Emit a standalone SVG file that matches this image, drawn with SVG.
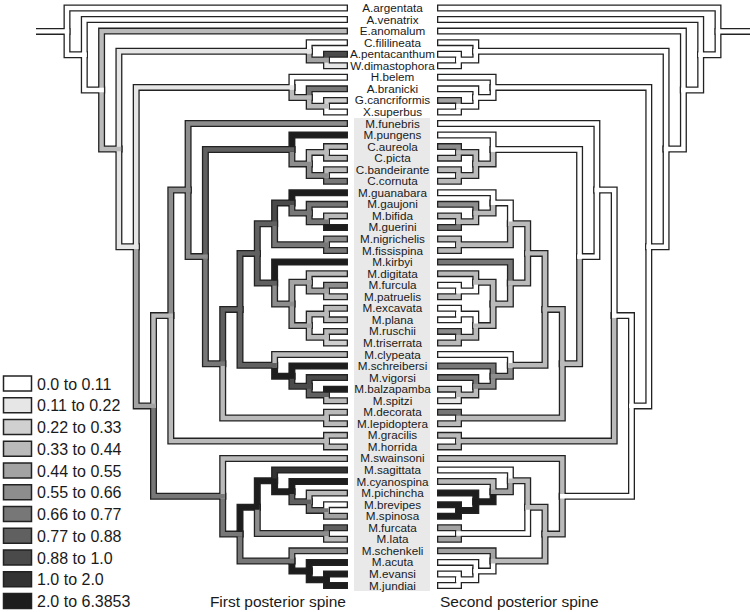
<svg xmlns="http://www.w3.org/2000/svg" xmlns:xlink="http://www.w3.org/1999/xlink" width="750" height="612" viewBox="0 0 750 612">
<style>
.o{fill:none;stroke:#222;stroke-width:7;stroke-linecap:square;stroke-linejoin:miter}
.stub{fill:none;stroke:#222;stroke-width:7}
.stubf{fill:none;stroke:#fff;stroke-width:4.4}
.f{fill:none;stroke-width:4.4;stroke-linecap:square;stroke-linejoin:miter}
.s0{stroke:#ffffff}.s1{stroke:#e6e6e6}.s2{stroke:#d0d0d0}.s3{stroke:#bababa}.s4{stroke:#a3a3a3}.s5{stroke:#8d8d8d}
.s6{stroke:#777777}.s7{stroke:#606060}.s8{stroke:#4a4a4a}.s9{stroke:#333333}.s10{stroke:#1d1d1d}
.k0{fill:#ffffff}.k1{fill:#e6e6e6}.k2{fill:#d0d0d0}.k3{fill:#bababa}.k4{fill:#a3a3a3}.k5{fill:#8d8d8d}
.k6{fill:#777777}.k7{fill:#606060}.k8{fill:#4a4a4a}.k9{fill:#333333}.k10{fill:#1d1d1d}
.lab{font-family:"Liberation Sans",Arial,sans-serif;font-size:11.7px;fill:#1a1a1a;text-anchor:middle}
.lg rect{stroke:#222;stroke-width:1.5}
.lg text{font-family:"Liberation Sans",Arial,sans-serif;font-size:16px;fill:#1a1a1a}
.ttl{font-family:"Liberation Sans",Arial,sans-serif;font-size:15.5px;fill:#1a1a1a}
</style>
<defs>
<g id="tree">
<path id="argentata" d="M67 31.4V8H344.5"/>
<path id="n2" d="M67 31.4V54.8H84.3"/>
<path id="venatrix" d="M84.3 54.8V19.55H344.5"/>
<path id="n3" d="M84.3 54.8V90H101.6"/>
<path id="anomalum" d="M101.6 90V31.1H344.5"/>
<path id="n4" d="M101.6 90V149H118.9"/>
<path id="ncf" d="M118.9 149V51.3H309.2"/>
<path id="fililineata" d="M309.2 51.3V42.65H344.5"/>
<path id="npw" d="M309.2 51.3V60H326.5"/>
<path id="pentacanthum" d="M326.5 60V54.2H344.5"/>
<path id="dimastophora" d="M326.5 60V65.75H344.5"/>
<path id="n6" d="M118.9 149V246.7H136.2"/>
<path id="nhb" d="M136.2 246.7V87.4H291.9"/>
<path id="belem" d="M291.9 87.4V77.3H344.5"/>
<path id="nab" d="M291.9 87.4V97.5H309.2"/>
<path id="branicki" d="M309.2 97.5V88.85H344.5"/>
<path id="ngx" d="M309.2 97.5V106.2H326.5"/>
<path id="cancriformis" d="M326.5 106.2V100.4H344.5"/>
<path id="superbus" d="M326.5 106.2V111.95H344.5"/>
<path id="n8" d="M136.2 246.7V405.9H153.5"/>
<path id="nf2" d="M153.5 405.9V315.6H170.8"/>
<path id="nfun" d="M170.8 315.6V190H188.1"/>
<path id="funebris" d="M188.1 190V123.5H344.5"/>
<path id="na" d="M188.1 190V256.6H205.4"/>
<path id="npc" d="M205.4 256.6V149.5H291.9"/>
<path id="pungens" d="M291.9 149.5V135.05H344.5"/>
<path id="nC" d="M291.9 149.5V163.9H309.2"/>
<path id="nap" d="M309.2 163.9V152.4H326.5"/>
<path id="aureola" d="M326.5 152.4V146.6H344.5"/>
<path id="picta" d="M326.5 152.4V158.15H344.5"/>
<path id="nbc" d="M309.2 163.9V175.5H326.5"/>
<path id="bandeirante" d="M326.5 175.5V169.7H344.5"/>
<path id="cornuta" d="M326.5 175.5V181.25H344.5"/>
<path id="nb" d="M205.4 256.6V363.7H222.7"/>
<path id="nc" d="M222.7 363.7V309.4H240"/>
<path id="nd" d="M240 309.4V253.4H257.3"/>
<path id="ne" d="M257.3 253.4V223.8H274.6"/>
<path id="nguan" d="M274.6 223.8V202.9H291.9"/>
<path id="guanabara" d="M291.9 202.9V192.8H344.5"/>
<path id="ngj" d="M291.9 202.9V213H309.2"/>
<path id="gaujoni" d="M309.2 213V204.35H344.5"/>
<path id="nbg" d="M309.2 213V221.7H326.5"/>
<path id="bifida" d="M326.5 221.7V215.9H344.5"/>
<path id="guerini" d="M326.5 221.7V227.45H344.5"/>
<path id="nnig" d="M274.6 223.8V244.8H326.5"/>
<path id="nigrichelis" d="M326.5 244.8V239H344.5"/>
<path id="fissispina" d="M326.5 244.8V250.55H344.5"/>
<path id="nkir" d="M257.3 253.4V283H274.6"/>
<path id="kirbyi" d="M274.6 283V262.1H344.5"/>
<path id="nde" d="M274.6 283V304H291.9"/>
<path id="ndig" d="M291.9 304V282.3H309.2"/>
<path id="digitata" d="M309.2 282.3V273.65H344.5"/>
<path id="nfp" d="M309.2 282.3V291H326.5"/>
<path id="furcula" d="M326.5 291V285.2H344.5"/>
<path id="patruelis" d="M326.5 291V296.75H344.5"/>
<path id="nex" d="M291.9 304V325.6H309.2"/>
<path id="nep" d="M309.2 325.6V314.1H326.5"/>
<path id="excavata" d="M326.5 314.1V308.3H344.5"/>
<path id="plana" d="M326.5 314.1V319.85H344.5"/>
<path id="nrt" d="M309.2 325.6V337.2H326.5"/>
<path id="ruschii" d="M326.5 337.2V331.4H344.5"/>
<path id="triserrata" d="M326.5 337.2V342.95H344.5"/>
<path id="nclyp" d="M240 309.4V365.3H274.6"/>
<path id="clypeata" d="M274.6 365.3V354.5H344.5"/>
<path id="nschr" d="M274.6 365.3V376.2H291.9"/>
<path id="schreibersi" d="M291.9 376.2V366.05H344.5"/>
<path id="nvig" d="M291.9 376.2V386.3H309.2"/>
<path id="vigorsi" d="M309.2 386.3V377.6H344.5"/>
<path id="nbsp" d="M309.2 386.3V394.9H326.5"/>
<path id="balzapamba" d="M326.5 394.9V389.15H344.5"/>
<path id="spitzi" d="M326.5 394.9V400.7H344.5"/>
<path id="ndl" d="M222.7 363.7V418H326.5"/>
<path id="decorata" d="M326.5 418V412.25H344.5"/>
<path id="lepidoptera" d="M326.5 418V423.8H344.5"/>
<path id="nh" d="M170.8 315.6V441.1H326.5"/>
<path id="gracilis" d="M326.5 441.1V435.35H344.5"/>
<path id="horrida" d="M326.5 441.1V446.9H344.5"/>
<path id="ng" d="M153.5 405.9V496.3H222.7"/>
<path id="swainsoni" d="M222.7 496.3V458.45H344.5"/>
<path id="nm" d="M222.7 496.3V534.1H240"/>
<path id="nup" d="M240 534.1V507.2H257.3"/>
<path id="nsag" d="M257.3 507.2V480.8H274.6"/>
<path id="sagittata" d="M274.6 480.8V470H344.5"/>
<path id="ncyan" d="M274.6 480.8V491.7H291.9"/>
<path id="cyanospina" d="M291.9 491.7V481.55H344.5"/>
<path id="npich" d="M291.9 491.7V501.8H309.2"/>
<path id="pichincha" d="M309.2 501.8V493.1H344.5"/>
<path id="nbs" d="M309.2 501.8V510.4H326.5"/>
<path id="brevipes" d="M326.5 510.4V504.65H344.5"/>
<path id="spinosa" d="M326.5 510.4V516.2H344.5"/>
<path id="nfl" d="M257.3 507.2V533.5H326.5"/>
<path id="furcata" d="M326.5 533.5V527.75H344.5"/>
<path id="lata" d="M326.5 533.5V539.3H344.5"/>
<path id="nsch" d="M240 534.1V561H291.9"/>
<path id="schenkeli" d="M291.9 561V550.85H344.5"/>
<path id="nac" d="M291.9 561V571.1H309.2"/>
<path id="acuta" d="M309.2 571.1V562.4H344.5"/>
<path id="nej" d="M309.2 571.1V579.7H326.5"/>
<path id="evansi" d="M326.5 579.7V573.95H344.5"/>
<path id="jundiai" d="M326.5 579.7V585.5H344.5"/>
</g>
</defs>
<rect id="label-band" x="354" y="118" width="76" height="473" fill="#e9e9e9"/>
<g id="connectors">
<path class="stub" d="M36 31.4H67M718 31.4H750"/>
<use href="#tree" class="o"/>
<use href="#tree" class="o" transform="matrix(-1 0 0 1 785 0)"/>
<path class="stubf" d="M36 31.4H68M717 31.4H750"/>
<g id="fill-first" class="f">
<use href="#jundiai" class="s10"/><use href="#evansi" class="s10"/><use href="#nej" class="s10"/><use href="#acuta" class="s10"/><use href="#nac" class="s10"/>
<use href="#schenkeli" class="s5"/><use href="#nsch" class="s6"/><use href="#lata" class="s3"/><use href="#furcata" class="s7"/><use href="#nfl" class="s5"/>
<use href="#spinosa" class="s4"/><use href="#brevipes" class="s0"/><use href="#nbs" class="s6"/><use href="#pichincha" class="s3"/><use href="#npich" class="s7"/>
<use href="#cyanospina" class="s10"/><use href="#ncyan" class="s10"/><use href="#sagittata" class="s9"/><use href="#nsag" class="s10"/><use href="#nup" class="s10"/>
<use href="#nm" class="s6"/><use href="#swainsoni" class="s3"/><use href="#ng" class="s6"/><use href="#horrida" class="s3"/><use href="#gracilis" class="s3"/>
<use href="#nh" class="s3"/><use href="#lepidoptera" class="s3"/><use href="#decorata" class="s3"/><use href="#ndl" class="s3"/><use href="#spitzi" class="s3"/>
<use href="#balzapamba" class="s10"/><use href="#nbsp" class="s7"/><use href="#vigorsi" class="s8"/><use href="#nvig" class="s8"/><use href="#schreibersi" class="s10"/>
<use href="#nschr" class="s10"/><use href="#clypeata" class="s3"/><use href="#nclyp" class="s7"/><use href="#triserrata" class="s2"/><use href="#ruschii" class="s3"/>
<use href="#nrt" class="s3"/><use href="#plana" class="s3"/><use href="#excavata" class="s3"/><use href="#nep" class="s3"/><use href="#nex" class="s4"/>
<use href="#patruelis" class="s3"/><use href="#furcula" class="s5"/><use href="#nfp" class="s4"/><use href="#digitata" class="s3"/><use href="#ndig" class="s4"/>
<use href="#nde" class="s5"/><use href="#kirbyi" class="s10"/><use href="#nkir" class="s7"/><use href="#fissispina" class="s6"/><use href="#nigrichelis" class="s5"/>
<use href="#nnig" class="s6"/><use href="#guerini" class="s10"/><use href="#bifida" class="s3"/><use href="#nbg" class="s6"/><use href="#gaujoni" class="s6"/>
<use href="#ngj" class="s6"/><use href="#guanabara" class="s10"/><use href="#nguan" class="s8"/><use href="#ne" class="s7"/><use href="#nd" class="s7"/>
<use href="#nc" class="s7"/><use href="#nb" class="s6"/><use href="#cornuta" class="s6"/><use href="#bandeirante" class="s3"/><use href="#nbc" class="s5"/>
<use href="#picta" class="s3"/><use href="#aureola" class="s3"/><use href="#nap" class="s3"/><use href="#nC" class="s5"/><use href="#pungens" class="s10"/>
<use href="#npc" class="s7"/><use href="#na" class="s5"/><use href="#funebris" class="s5"/><use href="#nfun" class="s5"/><use href="#nf2" class="s3"/>
<use href="#n8" class="s4"/><use href="#superbus" class="s0"/><use href="#cancriformis" class="s2"/><use href="#ngx" class="s3"/><use href="#branicki" class="s6"/>
<use href="#nab" class="s3"/><use href="#belem" class="s0"/><use href="#nhb" class="s1"/><use href="#n6" class="s1"/><use href="#dimastophora" class="s1"/>
<use href="#pentacanthum" class="s8"/><use href="#npw" class="s4"/><use href="#fililineata" class="s0"/><use href="#ncf" class="s1"/><use href="#n4" class="s3"/>
<use href="#anomalum" class="s3"/><use href="#n3" class="s0"/><use href="#venatrix" class="s0"/><use href="#n2" class="s0"/><use href="#argentata" class="s0"/>
</g>
<g id="fill-second" class="f" transform="matrix(-1 0 0 1 785 0)">
<use href="#jundiai" class="s0"/><use href="#evansi" class="s0"/><use href="#nej" class="s0"/><use href="#acuta" class="s0"/><use href="#nac" class="s0"/>
<use href="#schenkeli" class="s4"/><use href="#nsch" class="s3"/><use href="#lata" class="s4"/><use href="#furcata" class="s4"/><use href="#nfl" class="s0"/>
<use href="#spinosa" class="s10"/><use href="#brevipes" class="s10"/><use href="#nbs" class="s10"/><use href="#pichincha" class="s10"/><use href="#npich" class="s10"/>
<use href="#cyanospina" class="s3"/><use href="#ncyan" class="s4"/><use href="#sagittata" class="s0"/><use href="#nsag" class="s3"/><use href="#nup" class="s3"/>
<use href="#nm" class="s3"/><use href="#swainsoni" class="s3"/><use href="#ng" class="s0"/><use href="#horrida" class="s3"/><use href="#gracilis" class="s3"/>
<use href="#nh" class="s3"/><use href="#lepidoptera" class="s3"/><use href="#decorata" class="s6"/><use href="#ndl" class="s3"/><use href="#spitzi" class="s1"/>
<use href="#balzapamba" class="s3"/><use href="#nbsp" class="s3"/><use href="#vigorsi" class="s6"/><use href="#nvig" class="s5"/><use href="#schreibersi" class="s6"/>
<use href="#nschr" class="s5"/><use href="#clypeata" class="s0"/><use href="#nclyp" class="s3"/><use href="#triserrata" class="s3"/><use href="#ruschii" class="s5"/>
<use href="#nrt" class="s3"/><use href="#plana" class="s0"/><use href="#excavata" class="s0"/><use href="#nep" class="s0"/><use href="#nex" class="s3"/>
<use href="#patruelis" class="s3"/><use href="#furcula" class="s0"/><use href="#nfp" class="s0"/><use href="#digitata" class="s3"/><use href="#ndig" class="s3"/>
<use href="#nde" class="s3"/><use href="#kirbyi" class="s6"/><use href="#nkir" class="s3"/><use href="#fissispina" class="s3"/><use href="#nigrichelis" class="s3"/>
<use href="#nnig" class="s3"/><use href="#guerini" class="s6"/><use href="#bifida" class="s3"/><use href="#nbg" class="s3"/><use href="#gaujoni" class="s5"/>
<use href="#ngj" class="s3"/><use href="#guanabara" class="s0"/><use href="#nguan" class="s0"/><use href="#ne" class="s3"/><use href="#nd" class="s3"/>
<use href="#nc" class="s3"/><use href="#nb" class="s3"/><use href="#cornuta" class="s3"/><use href="#bandeirante" class="s3"/><use href="#nbc" class="s3"/>
<use href="#picta" class="s3"/><use href="#aureola" class="s5"/><use href="#nap" class="s3"/><use href="#nC" class="s3"/><use href="#pungens" class="s0"/>
<use href="#npc" class="s0"/><use href="#na" class="s0"/><use href="#funebris" class="s0"/><use href="#nfun" class="s0"/><use href="#nf2" class="s0"/>
<use href="#n8" class="s0"/><use href="#superbus" class="s0"/><use href="#cancriformis" class="s4"/><use href="#ngx" class="s0"/><use href="#branicki" class="s0"/>
<use href="#nab" class="s0"/><use href="#belem" class="s0"/><use href="#nhb" class="s0"/><use href="#n6" class="s0"/><use href="#dimastophora" class="s0"/>
<use href="#pentacanthum" class="s0"/><use href="#npw" class="s0"/><use href="#fililineata" class="s0"/><use href="#ncf" class="s0"/><use href="#n4" class="s0"/>
<use href="#anomalum" class="s0"/><use href="#n3" class="s0"/><use href="#venatrix" class="s0"/><use href="#n2" class="s0"/><use href="#argentata" class="s0"/>
</g>
</g>
<g id="taxa" class="lab">
<g id="t-argentata"><text x="392.5" y="12">A.argentata</text></g>
<g id="t-venatrix"><text x="392.5" y="23.55">A.venatrix</text></g>
<g id="t-anomalum"><text x="392.5" y="35.1">E.anomalum</text></g>
<g id="t-fililineata"><text x="392.5" y="46.65">C.fililineata</text></g>
<g id="t-pentacanthum"><text x="392.5" y="58.2">A.pentacanthum</text></g>
<g id="t-dimastophora"><text x="392.5" y="69.75">W.dimastophora</text></g>
<g id="t-belem"><text x="392.5" y="81.3">H.belem</text></g>
<g id="t-branicki"><text x="392.5" y="92.85">A.branicki</text></g>
<g id="t-cancriformis"><text x="392.5" y="104.4">G.cancriformis</text></g>
<g id="t-superbus"><text x="392.5" y="115.95">X.superbus</text></g>
<g id="t-funebris"><text x="392.5" y="127.5">M.funebris</text></g>
<g id="t-pungens"><text x="392.5" y="139.05">M.pungens</text></g>
<g id="t-aureola"><text x="392.5" y="150.6">C.aureola</text></g>
<g id="t-picta"><text x="392.5" y="162.15">C.picta</text></g>
<g id="t-bandeirante"><text x="392.5" y="173.7">C.bandeirante</text></g>
<g id="t-cornuta"><text x="392.5" y="185.25">C.cornuta</text></g>
<g id="t-guanabara"><text x="392.5" y="196.8">M.guanabara</text></g>
<g id="t-gaujoni"><text x="392.5" y="208.35">M.gaujoni</text></g>
<g id="t-bifida"><text x="392.5" y="219.9">M.bifida</text></g>
<g id="t-guerini"><text x="392.5" y="231.45">M.guerini</text></g>
<g id="t-nigrichelis"><text x="392.5" y="243">M.nigrichelis</text></g>
<g id="t-fissispina"><text x="392.5" y="254.55">M.fissispina</text></g>
<g id="t-kirbyi"><text x="392.5" y="266.1">M.kirbyi</text></g>
<g id="t-digitata"><text x="392.5" y="277.65">M.digitata</text></g>
<g id="t-furcula"><text x="392.5" y="289.2">M.furcula</text></g>
<g id="t-patruelis"><text x="392.5" y="300.75">M.patruelis</text></g>
<g id="t-excavata"><text x="392.5" y="312.3">M.excavata</text></g>
<g id="t-plana"><text x="392.5" y="323.85">M.plana</text></g>
<g id="t-ruschii"><text x="392.5" y="335.4">M.ruschii</text></g>
<g id="t-triserrata"><text x="392.5" y="346.95">M.triserrata</text></g>
<g id="t-clypeata"><text x="392.5" y="358.5">M.clypeata</text></g>
<g id="t-schreibersi"><text x="392.5" y="370.05">M.schreibersi</text></g>
<g id="t-vigorsi"><text x="392.5" y="381.6">M.vigorsi</text></g>
<g id="t-balzapamba"><text x="392.5" y="393.15">M.balzapamba</text></g>
<g id="t-spitzi"><text x="392.5" y="404.7">M.spitzi</text></g>
<g id="t-decorata"><text x="392.5" y="416.25">M.decorata</text></g>
<g id="t-lepidoptera"><text x="392.5" y="427.8">M.lepidoptera</text></g>
<g id="t-gracilis"><text x="392.5" y="439.35">M.gracilis</text></g>
<g id="t-horrida"><text x="392.5" y="450.9">M.horrida</text></g>
<g id="t-swainsoni"><text x="392.5" y="462.45">M.swainsoni</text></g>
<g id="t-sagittata"><text x="392.5" y="474">M.sagittata</text></g>
<g id="t-cyanospina"><text x="392.5" y="485.55">M.cyanospina</text></g>
<g id="t-pichincha"><text x="392.5" y="497.1">M.pichincha</text></g>
<g id="t-brevipes"><text x="392.5" y="508.65">M.brevipes</text></g>
<g id="t-spinosa"><text x="392.5" y="520.2">M.spinosa</text></g>
<g id="t-furcata"><text x="392.5" y="531.75">M.furcata</text></g>
<g id="t-lata"><text x="392.5" y="543.3">M.lata</text></g>
<g id="t-schenkeli"><text x="392.5" y="554.85">M.schenkeli</text></g>
<g id="t-acuta"><text x="392.5" y="566.4">M.acuta</text></g>
<g id="t-evansi"><text x="392.5" y="577.95">M.evansi</text></g>
<g id="t-jundiai"><text x="392.5" y="589.5">M.jundiai</text></g>
</g>
<g id="legend" class="lg">
<rect x="3.5" y="376" width="28" height="15" class="k0"/><text x="37" y="389.5">0.0 to 0.11</text>
<rect x="3.5" y="397.75" width="28" height="15" class="k1"/><text x="37" y="411.25">0.11 to 0.22</text>
<rect x="3.5" y="419.5" width="28" height="15" class="k2"/><text x="37" y="433">0.22 to 0.33</text>
<rect x="3.5" y="441.25" width="28" height="15" class="k3"/><text x="37" y="454.75">0.33 to 0.44</text>
<rect x="3.5" y="463" width="28" height="15" class="k4"/><text x="37" y="476.5">0.44 to 0.55</text>
<rect x="3.5" y="484.75" width="28" height="15" class="k5"/><text x="37" y="498.25">0.55 to 0.66</text>
<rect x="3.5" y="506.5" width="28" height="15" class="k6"/><text x="37" y="520">0.66 to 0.77</text>
<rect x="3.5" y="528.25" width="28" height="15" class="k7"/><text x="37" y="541.75">0.77 to 0.88</text>
<rect x="3.5" y="550" width="28" height="15" class="k8"/><text x="37" y="563.5">0.88 to 1.0</text>
<rect x="3.5" y="571.75" width="28" height="15" class="k9"/><text x="37" y="585.25">1.0 to 2.0</text>
<rect x="3.5" y="593.5" width="28" height="15" class="k10"/><text x="37" y="607">2.0 to 6.3853</text>
</g>
<g id="titles" class="ttl">
<text id="title-first" x="346" y="607" text-anchor="end">First posterior spine</text>
<text id="title-second" x="440" y="607">Second posterior spine</text>
</g>
</svg>
